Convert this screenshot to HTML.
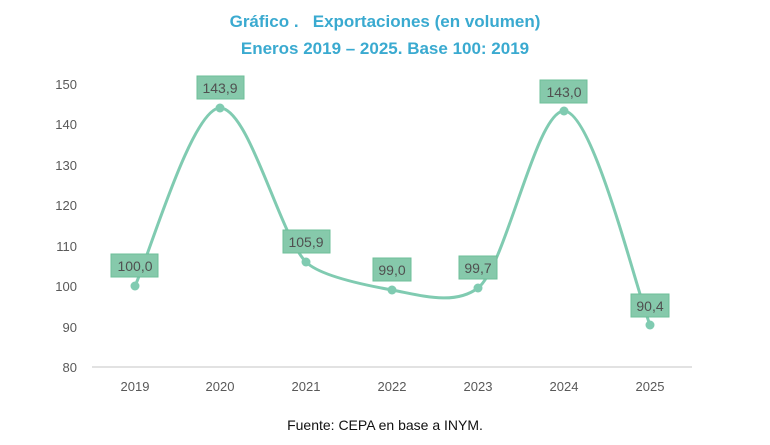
<!DOCTYPE html>
<html><head><meta charset="utf-8"><style>
body{margin:0;background:#fff;}
svg text{font-family:"Liberation Sans",sans-serif;}
</style></head><body>
<svg width="770" height="440" viewBox="0 0 770 440" xmlns="http://www.w3.org/2000/svg">
<text x="385" y="27" text-anchor="middle" font-size="17" font-weight="bold" fill="#3aaad0">Gráfico .&#160;&#160;&#160;Exportaciones (en volumen)</text>
<text x="385" y="54" text-anchor="middle" font-size="17" font-weight="bold" fill="#3aaad0">Eneros 2019 – 2025. Base 100: 2019</text>
<g font-size="13" fill="#595959" text-anchor="end">
<text x="77" y="89">150</text><text x="77" y="129">140</text><text x="77" y="170">130</text><text x="77" y="210">120</text><text x="77" y="251">110</text><text x="77" y="291">100</text><text x="77" y="332">90</text><text x="77" y="372">80</text>
</g>
<line x1="92" y1="367" x2="692" y2="367" stroke="#d9d9d9" stroke-width="1.5"/>
<g font-size="13" fill="#595959" text-anchor="middle">
<text x="135" y="391">2019</text><text x="220" y="391">2020</text><text x="306" y="391">2021</text><text x="392" y="391">2022</text><text x="478" y="391">2023</text><text x="564" y="391">2024</text><text x="650" y="391">2025</text>
</g>
<path d="M135,286 C149,256 192,108 220,108 C249,108 280,236 306,262 C320,276 364,285 392,290 C420,295 454,306 478,288 C506,266 536,111 564,111 C593,111 636,289 650,325" fill="none" stroke="#80cbb1" stroke-width="3"/>
<g fill="#80cbb1">
<circle cx="135" cy="286" r="4.5"/><circle cx="220" cy="108" r="4.5"/><circle cx="306" cy="262" r="4.5"/><circle cx="392" cy="290" r="4.5"/><circle cx="478" cy="288" r="4.5"/><circle cx="564" cy="111" r="4.5"/><circle cx="650" cy="325" r="4.5"/>
</g>
<g fill="#86c9ab" stroke="#6dbf98" stroke-width="1">
<rect x="111" y="254" width="47" height="23"/><rect x="197" y="76" width="47" height="23"/><rect x="283" y="230" width="47" height="23"/><rect x="373" y="258" width="38" height="23"/><rect x="459" y="256" width="38" height="23"/><rect x="540" y="80" width="47" height="23"/><rect x="631" y="294" width="38" height="23"/>
</g>
<g font-size="14" fill="#505050" text-anchor="middle">
<text x="135" y="271">100,0</text><text x="220" y="93">143,9</text><text x="306" y="247">105,9</text><text x="392" y="275">99,0</text><text x="478" y="273">99,7</text><text x="564" y="97">143,0</text><text x="650" y="311">90,4</text>
</g>
<text x="385" y="430" text-anchor="middle" font-size="14" fill="#111">Fuente: CEPA en base a INYM.</text>
</svg>
</body></html>
